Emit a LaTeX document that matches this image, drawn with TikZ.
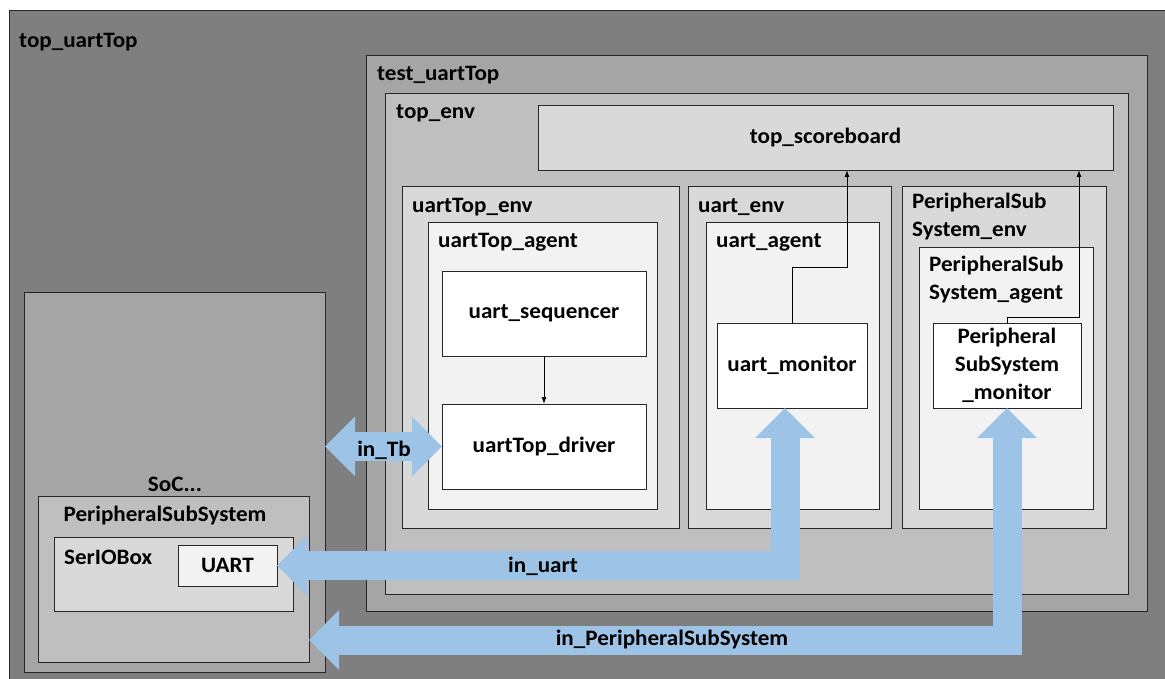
\documentclass[tikz,border=0pt]{standalone}
\usepackage{fontspec}
\setmainfont{Carlito}[FakeStretch=1.05]
\usetikzlibrary{arrows.meta,calc}
\definecolor{cOuter}{HTML}{7F7F7F}
\definecolor{cG1}{HTML}{A5A5A5}
\definecolor{cG2}{HTML}{BFBFBF}
\definecolor{cG3}{HTML}{D9D9D9}
\definecolor{cG4}{HTML}{F2F2F2}
\definecolor{cBlue}{HTML}{9DC3E6}
\definecolor{cLine}{HTML}{262626}
\tikzset{
  box/.style={draw=cLine, line width=0.9pt, inner sep=0pt, outer sep=0pt, anchor=north west},
  lbl/.style={font=\fontsize{22}{28}\selectfont\bfseries, inner sep=0pt, text=black},
  thinarrow/.style={draw=black, line width=1pt, -{Latex[length=7pt,width=5pt]}},
  fat/.style={draw=cBlue, line width=29pt, line join=miter},
  fathead/.tip={Triangle[length=30pt,width=58pt]}
}
\newcommand{\bx}[6]{\node[box, fill=#2, minimum width=#5-#3, minimum height=#6-#4] (#1) at (#3,#4) {};}
\begin{document}
\begin{tikzpicture}[x=1pt,y=-1pt]
\useasboundingbox (0,0) rectangle (1165,679);
\clip (0,0) rectangle (1165,679);
\fill[white] (0,0) rectangle (1165,679);
% boxes
\bx{topU}{cOuter}{9}{10}{1175}{690}
\bx{test}{cG1}{366}{55}{1147}{611}
\bx{env}{cG2}{385}{93}{1128}{594}
\bx{sb}{cG3}{538}{105}{1113}{170}
\bx{utenv}{cG3}{402}{186}{679}{528}
\bx{utag}{cG4}{428}{222}{657}{509}
\bx{useq}{white}{442}{271}{646}{356}
\bx{udrv}{white}{442}{404}{646}{489}
\bx{uenv}{cG3}{688}{186}{891}{528}
\bx{uag}{cG4}{706}{222}{879}{509}
\bx{umon}{white}{717}{323}{867}{408}
\bx{penv}{cG3}{902}{186}{1106}{528}
\bx{pag}{cG4}{919}{247}{1093}{509}
\bx{pmon}{white}{933}{323}{1081}{408}
\bx{soc}{cG1}{24}{292}{325}{672}
\bx{pss}{cG2}{38}{496}{309}{662}
\bx{ser}{cG3}{54}{537}{293}{611}
\bx{uart}{cG4}{178}{545}{277}{586}
% labels
\node[lbl, anchor=west] at (19,42) {top\_uartTop};
\node[lbl, anchor=west] at (377,75) {test\_uartTop};
\node[lbl, anchor=west] at (396,113) {top\_env};
\node[lbl] at (sb.center) {top\_scoreboard};
\node[lbl, anchor=west] at (412,207) {uartTop\_env};
\node[lbl, anchor=west] at (438,242) {uartTop\_agent};
\node[lbl] at (useq.center) {uart\_sequencer};
\node[lbl] at (udrv.center) {uartTop\_driver};
\node[lbl, anchor=west] at (698,207) {uart\_env};
\node[lbl, anchor=west] at (716,242) {uart\_agent};
\node[lbl] at (umon.center) {uart\_monitor};
\node[lbl, anchor=north west, align=left] at (912,193) {PeripheralSub\\System\_env};
\node[lbl, anchor=north west, align=left] at (929,256) {PeripheralSub\\System\_agent};
\node[lbl, align=center] at (pmon.center) {Peripheral\\SubSystem\\\_monitor};
\node[lbl] at (175,484) {SoC...};
\node[lbl] at (165,516) {PeripheralSubSystem};
\node[lbl, anchor=west] at (64,557) {SerIOBox};
\node[lbl] at (uart.center) {UART};
% thin arrows
\coordinate (sbA) at (847,170);
\coordinate (sbB) at (1079,170);
\draw[thinarrow] (useq.south) -- (udrv.north);
\draw[thinarrow] (umon.north) -- ++(0,-55) -| (sbA);
\draw[thinarrow] (pmon.north) -- ++(0,-6) -| (sbB);
% fat arrows
\coordinate (umonIn) at (785,408);
\draw[fat, fathead-fathead] (soc.east |- udrv.west) -- (udrv.west);
\draw[fat, fathead-fathead] (uart.east) -| (umonIn);
\draw[fat, fathead-fathead] (pss.east |- 0,640) -| (pmon.south);
\node[lbl] at (384,450) {in\_Tb};
\node[lbl] at (543,566) {in\_uart};
\node[lbl] at (672,640) {in\_PeripheralSubSystem};
\end{tikzpicture}
\end{document}
